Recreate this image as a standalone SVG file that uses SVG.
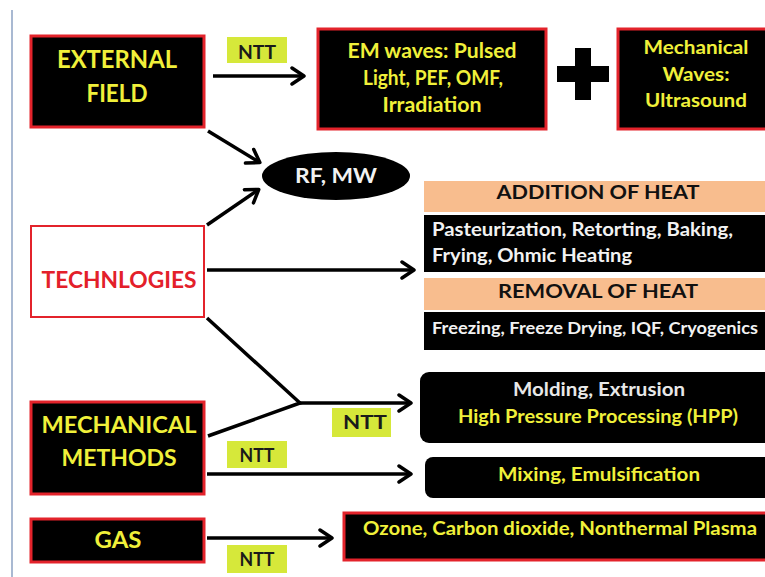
<svg xmlns="http://www.w3.org/2000/svg" width="765" height="577" viewBox="0 0 765 577">
<defs>
<marker id="arr" markerUnits="userSpaceOnUse" markerWidth="20" markerHeight="24" refX="13" refY="10" orient="auto" viewBox="0 0 20 20">
<path d="M2,2 L14,10 L2,18" fill="none" stroke="#000" stroke-width="3.5" stroke-linecap="round" stroke-linejoin="round"/>
</marker>
</defs>
<style>
text{font-family:Lato,"Open Sans","Liberation Sans",sans-serif;font-weight:700;}
.blk{fill:#000;stroke:#e3232b;stroke-width:3;}
.blkr{fill:#000;}
.y{fill:#f0f03a;}
.w{fill:#f2f2f2;}
.ntt{fill:#d6e83a;}
.nt{fill:#1a1a1a;font-size:18px;}
.peach{fill:#f8bd8e;}
.conn line,.conn path{stroke:#000;stroke-width:3.5;fill:none;}
</style>
<rect width="765" height="577" fill="#fff"/>
<line x1="12" y1="10" x2="12" y2="577" stroke="#a9b9d2" stroke-width="2"/>

<g id="external-field">
<rect class="blk" x="31" y="36" width="173" height="91"/>
<text class="y" x="117" y="68" font-size="25" text-anchor="middle" textLength="120" lengthAdjust="spacingAndGlyphs">EXTERNAL</text>
<text class="y" x="117" y="102" font-size="25" text-anchor="middle" textLength="61" lengthAdjust="spacingAndGlyphs">FIELD</text>
</g>

<g id="ntt1">
<rect class="ntt" x="227" y="37" width="60" height="26"/>
<text class="nt" x="257" y="59" text-anchor="middle" textLength="38" lengthAdjust="spacingAndGlyphs">NTT</text>
</g>

<g id="em-waves">
<rect class="blk" x="318" y="29" width="228" height="100"/>
<text class="y" x="432" y="58" font-size="20" text-anchor="middle" textLength="169" lengthAdjust="spacingAndGlyphs">EM waves: Pulsed</text>
<text class="y" x="433" y="85" font-size="20" text-anchor="middle" textLength="140" lengthAdjust="spacingAndGlyphs">Light, PEF, OMF,</text>
<text class="y" x="432" y="112" font-size="20" text-anchor="middle" textLength="99" lengthAdjust="spacingAndGlyphs">Irradiation</text>
</g>

<g id="plus">
<rect x="557" y="66" width="52" height="16" fill="#000"/>
<rect x="575" y="48" width="16" height="52" fill="#000"/>
</g>

<g id="mechanical-waves">
<rect class="blk" x="618" y="29" width="152" height="100"/>
<text class="y" x="696" y="54" font-size="19" text-anchor="middle" textLength="105" lengthAdjust="spacingAndGlyphs">Mechanical</text>
<text class="y" x="696" y="81" font-size="19" text-anchor="middle" textLength="67" lengthAdjust="spacingAndGlyphs">Waves:</text>
<text class="y" x="696" y="107" font-size="19" text-anchor="middle" textLength="102" lengthAdjust="spacingAndGlyphs">Ultrasound</text>
</g>

<g id="rf-mw">
<ellipse cx="336" cy="176" rx="74" ry="24" fill="#000"/>
<text class="w" x="336" y="183" font-size="20" text-anchor="middle" textLength="82" lengthAdjust="spacingAndGlyphs">RF, MW</text>
</g>

<g id="technologies">
<rect x="31" y="226" width="173" height="91" fill="#fff" stroke="#e3232b" stroke-width="2"/>
<text x="119" y="288" font-size="23" fill="#e3202a" text-anchor="middle" textLength="155" lengthAdjust="spacingAndGlyphs">TECHNLOGIES</text>
</g>

<g id="addition-of-heat">
<rect class="peach" x="424" y="181" width="345" height="31"/>
<text x="598" y="199" font-size="19" fill="#111" text-anchor="middle" textLength="203" lengthAdjust="spacingAndGlyphs">ADDITION OF HEAT</text>
<rect class="blkr" x="424" y="215" width="345" height="57"/>
<text class="w" x="432" y="236" font-size="18" textLength="301" lengthAdjust="spacingAndGlyphs">Pasteurization, Retorting, Baking,</text>
<text class="w" x="432" y="262" font-size="18" textLength="200" lengthAdjust="spacingAndGlyphs">Frying, Ohmic Heating</text>
</g>

<g id="removal-of-heat">
<rect class="peach" x="424" y="278" width="345" height="32"/>
<text x="598" y="298" font-size="19" fill="#111" text-anchor="middle" textLength="200" lengthAdjust="spacingAndGlyphs">REMOVAL OF HEAT</text>
<rect class="blkr" x="424" y="312" width="345" height="38"/>
<text class="w" x="432" y="334" font-size="17.5" textLength="326" lengthAdjust="spacingAndGlyphs">Freezing, Freeze Drying, IQF, Cryogenics</text>
</g>

<g id="mechanical-methods">
<rect class="blk" x="31" y="402" width="173" height="92"/>
<text class="y" x="119" y="433" font-size="23" text-anchor="middle" textLength="155" lengthAdjust="spacingAndGlyphs">MECHANICAL</text>
<text class="y" x="119" y="466" font-size="23" text-anchor="middle" textLength="115" lengthAdjust="spacingAndGlyphs">METHODS</text>
</g>

<g id="ntt2">
<rect class="ntt" x="332" y="408" width="59" height="29"/>
<text class="nt" x="365" y="429" text-anchor="middle" textLength="44" lengthAdjust="spacingAndGlyphs">NTT</text>
</g>

<g id="ntt3">
<rect class="ntt" x="227" y="441" width="60" height="27"/>
<text class="nt" x="257" y="462" text-anchor="middle" textLength="35" lengthAdjust="spacingAndGlyphs">NTT</text>
</g>

<g id="molding-hpp">
<rect class="blkr" x="420" y="372" width="360" height="71" rx="9"/>
<text x="599" y="396" font-size="18" fill="#e8e8e8" text-anchor="middle" textLength="172" lengthAdjust="spacingAndGlyphs">Molding, Extrusion</text>
<text class="y" x="598" y="423" font-size="18" text-anchor="middle" textLength="280" lengthAdjust="spacingAndGlyphs">High Pressure Processing (HPP)</text>
</g>

<g id="mixing">
<rect class="blkr" x="425" y="457" width="355" height="41" rx="8"/>
<text class="y" x="599" y="481" font-size="18" text-anchor="middle" textLength="202" lengthAdjust="spacingAndGlyphs">Mixing, Emulsification</text>
</g>

<g id="gas">
<rect class="blk" x="31" y="519" width="173" height="43"/>
<text class="y" x="118" y="548" font-size="23" text-anchor="middle" textLength="47" lengthAdjust="spacingAndGlyphs">GAS</text>
</g>

<g id="ntt4">
<rect class="ntt" x="227" y="545" width="60" height="28"/>
<text class="nt" x="257" y="566" text-anchor="middle" textLength="35" lengthAdjust="spacingAndGlyphs">NTT</text>
</g>

<g id="gas-products">
<rect class="blk" x="344" y="513" width="430" height="47"/>
<text class="y" x="560" y="535" font-size="18" text-anchor="middle" textLength="394" lengthAdjust="spacingAndGlyphs">Ozone, Carbon dioxide, Nonthermal Plasma</text>
</g>

<g id="connectors" class="conn">
<line x1="213" y1="76" x2="303" y2="76" marker-end="url(#arr)"/>
<line x1="208" y1="131" x2="259" y2="162" marker-end="url(#arr)"/>
<line x1="207" y1="225" x2="258" y2="190" marker-end="url(#arr)"/>
<line x1="207" y1="270" x2="413" y2="270" marker-end="url(#arr)"/>
<path d="M207,318 L300,403 L208,436"/>
<line x1="300" y1="403" x2="410" y2="403" marker-end="url(#arr)"/>
<line x1="207" y1="474" x2="410" y2="474" marker-end="url(#arr)"/>
<line x1="207" y1="538" x2="331" y2="538" marker-end="url(#arr)"/>
</g>
</svg>
